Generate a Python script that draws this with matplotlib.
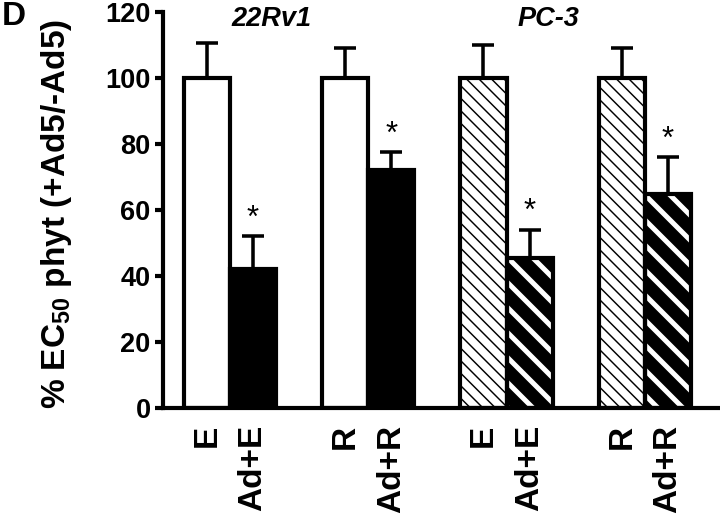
import numpy as np
import matplotlib

matplotlib.use("Agg")
import matplotlib.pyplot as plt

plt.rcParams["font.family"] = ["Liberation Sans", "DejaVu Sans"]
plt.rcParams["font.weight"] = "bold"
plt.rcParams["mathtext.default"] = "regular"

GROUPS = ["22Rv1", "PC-3"]
LABELS = ["E", "Ad+E", "R", "Ad+R", "E", "Ad+E", "R", "Ad+R"]
VALUES = [100, 42, 100, 72, 100, 45.5, 100, 65]
ERRORS = [10.5, 10, 9, 5.5, 10, 8.5, 9, 11]
SIGNIF = [False, True, False, True, False, True, False, True]

# bar styles: plain white, solid black, light hatch, dark hatch
STYLES = ["white", "black", "white", "black", "light", "dark", "light", "dark"]

LW = 2.0

fig = plt.figure(figsize=(4.8, 3.44), dpi=150)
ax = fig.add_axes([0.2264, 0.2093, 0.7736, 0.7674])

pos = np.arange(len(VALUES)) + np.repeat(np.arange(len(VALUES) // 2), 2)

for x, v, st in zip(pos, VALUES, STYLES):
    if st in ("white", "black"):
        ax.bar(x, v, width=1, color=st, edgecolor="black", linewidth=LW, zorder=2)
    elif st == "light":
        plt.rcParams["hatch.linewidth"] = 0.7
        ax.bar(x, v, width=1, color="white", edgecolor="black",
               hatch="\\\\\\\\", linewidth=0, zorder=2)
        ax.bar(x, v, width=1, fill=False, edgecolor="black", linewidth=LW, zorder=3)
    else:
        plt.rcParams["hatch.linewidth"] = 2.4
        ax.bar(x, v, width=1, color="black", edgecolor="white",
               hatch="\\\\", linewidth=0, zorder=2)
        ax.bar(x, v, width=1, fill=False, edgecolor="black", linewidth=LW, zorder=3)

ax.errorbar(pos, VALUES, yerr=[np.zeros(len(ERRORS)), ERRORS], fmt="none",
            ecolor="black", elinewidth=1.7, capsize=5.5, capthick=1.7, zorder=4)

for x, v, e, s in zip(pos, VALUES, ERRORS, SIGNIF):
    if s:
        ax.text(x, v + e + 0.8, "*", ha="center", va="bottom", fontsize=15,
                fontweight="normal")

for i, g in enumerate(GROUPS):
    ax.text(pos[4 * i:4 * i + 4].mean() - 0.6, 118, g, ha="center", va="center",
            fontsize=13, fontweight="bold", style="italic")

ax.set_xlim(-0.95, 11.13)
ax.set_ylim(0, 120)
ax.set_yticks(np.arange(0, 121, 20))
ax.set_xticks(pos)
ax.set_xticklabels(LABELS, rotation=90, fontsize=16, fontweight="bold")
ax.tick_params(axis="x", length=0, pad=8)
ax.tick_params(axis="y", length=4, width=LW, labelsize=13, pad=2)
for lab in ax.get_yticklabels():
    lab.set_fontweight("bold")
for side in ("top", "right"):
    ax.spines[side].set_visible(False)
for side in ("left", "bottom"):
    ax.spines[side].set_linewidth(LW)
ax.spines["left"].set_zorder(5)

ax.set_ylabel("% EC$_{50}$ phyt (+Ad5/-Ad5)", fontsize=16, fontweight="bold")
ax.yaxis.set_label_coords(-0.16, 0.49)
fig.text(0.002, 0.998, "D", ha="left", va="top", fontsize=16, fontweight="bold")

fig.savefig("out.png", dpi=150)
